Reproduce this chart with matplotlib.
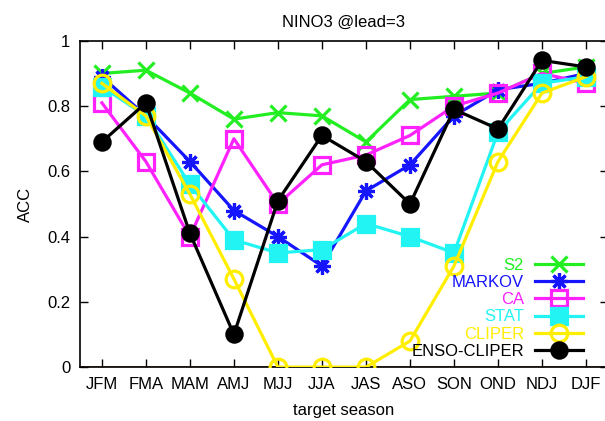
import matplotlib
matplotlib.use('Agg')
import matplotlib.pyplot as plt

plt.rcParams['font.family'] = ['Liberation Sans', 'DejaVu Sans']
plt.rcParams['font.size'] = 12

seasons = ['JFM', 'FMA', 'MAM', 'AMJ', 'MJJ', 'JJA', 'JAS', 'ASO', 'SON', 'OND', 'NDJ', 'DJF']

s2 = [0.90, 0.91, 0.84, 0.76, 0.78, 0.77, 0.69, 0.82, 0.83, 0.84, 0.90, 0.92]
markov = [0.89, 0.77, 0.63, 0.48, 0.40, 0.31, 0.54, 0.62, 0.77, 0.85, 0.87, 0.90]
ca = [0.81, 0.63, 0.40, 0.70, 0.50, 0.62, 0.65, 0.71, 0.80, 0.84, 0.90, 0.87]
stat = [0.86, 0.77, 0.56, 0.39, 0.35, 0.36, 0.44, 0.40, 0.35, 0.72, 0.87, 0.89]
cliper = [0.87, 0.77, 0.53, 0.27, 0.00, 0.00, 0.00, 0.08, 0.31, 0.63, 0.84, 0.89]
enso_cliper = [0.69, 0.81, 0.41, 0.10, 0.51, 0.71, 0.63, 0.50, 0.79, 0.73, 0.94, 0.92]

series = [
    ('S2', s2, '#22ee22', 'x', 'full', 11),
    ('MARKOV', markov, '#1515ff', (8, 2, 0), 'full', 12),
    ('CA', ca, '#ff22ff', 's', 'none', 12),
    ('STAT', stat, '#22f4f4', 's', 'full', 11),
    ('CLIPER', cliper, '#ffee00', 'o', 'none', 12),
    ('ENSO-CLIPER', enso_cliper, '#000000', 'o', 'full', 11),
]

fig = plt.figure(figsize=(6.05, 4.21), dpi=100)
ax = fig.add_axes([0.132, 0.128, 0.873, 0.775])

x = list(range(len(seasons)))
ax.axhline(0, color='#d0603a', lw=1.2, zorder=1)
for name, vals, col, mk, fs, ms in series:
    ax.plot(x, vals, color=col, lw=2.3, marker=mk, fillstyle=fs,
            markersize=ms, markeredgewidth=2.3, label=name, zorder=3)

ax.set_xlim(-0.5, 11.5)
ax.set_ylim(0, 1)
ax.set_xticks(x)
ax.set_xticklabels(seasons)
ax.set_yticks([0, 0.2, 0.4, 0.6, 0.8, 1.0])
ax.set_yticklabels(['0', '0.2', '0.4', '0.6', '0.8', '1'])
ax.tick_params(direction='in', top=True, right=True, length=6, width=1, pad=7)
for sp in ax.spines.values():
    sp.set_linewidth(1.2)

ax.set_title('NINO3 @lead=3', fontsize=12, pad=10)
ax.set_xlabel('target season', labelpad=8)
ax.set_ylabel('ACC', labelpad=10)

leg = ax.legend(loc='lower right', bbox_to_anchor=(0.975, -0.01), frameon=False,
                markerfirst=False, labelcolor='linecolor', handlelength=2.9,
                handletextpad=0.65, labelspacing=0.13, borderpad=0.2)

fig.savefig('out.png', dpi=100)
